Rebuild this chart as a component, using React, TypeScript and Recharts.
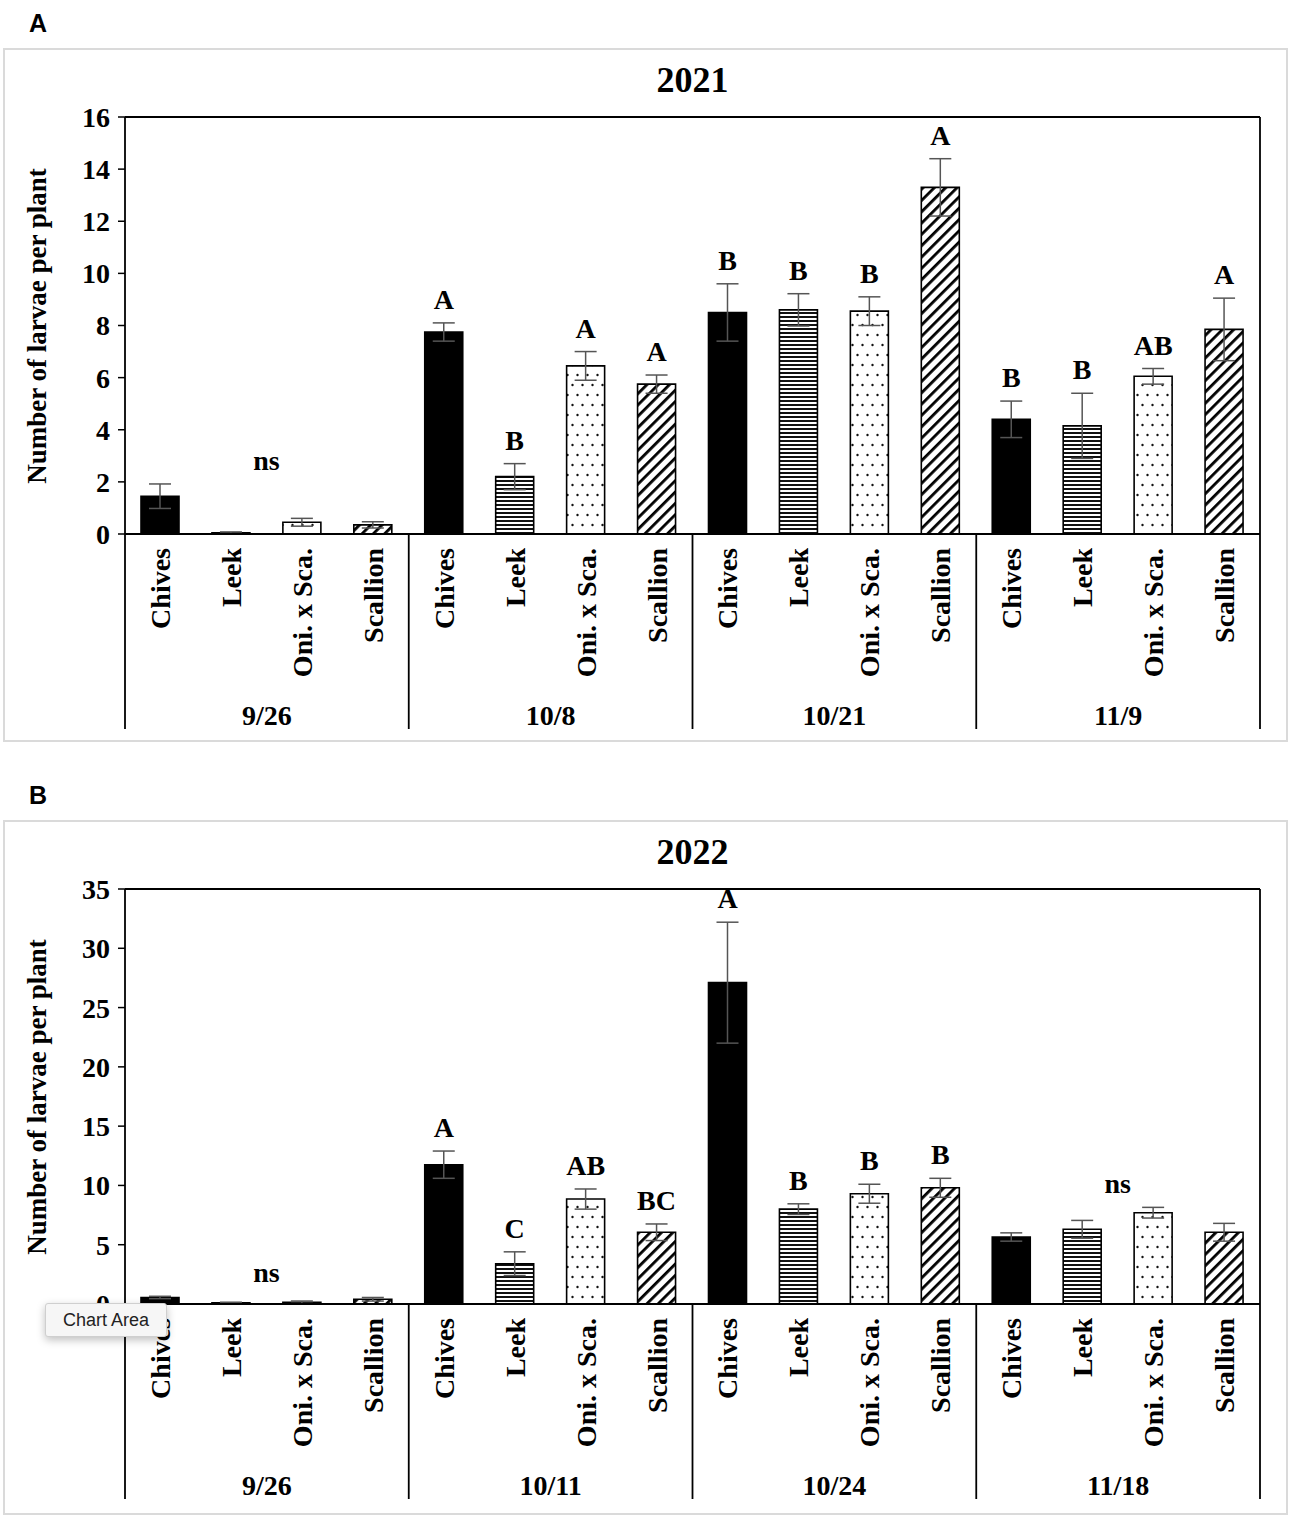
import { Bar, BarChart, Cell, ErrorBar, LabelList, ReferenceLine, XAxis, YAxis } from 'recharts'

const plants = ['Chives', 'Leek', 'Oni. x Sca.', 'Scallion']

const dates2021 = ['9/26', '10/8', '10/21', '11/9']
const mean2021 = [1.45, 0.05, 0.45, 0.35, 7.75, 2.2, 6.45, 5.75, 8.5, 8.6, 8.55, 13.3, 4.4, 4.15, 6.05, 7.85]
const se2021 = [0.47, 0.03, 0.15, 0.12, 0.35, 0.5, 0.55, 0.35, 1.1, 0.62, 0.55, 1.1, 0.7, 1.25, 0.3, 1.2]
// 'ns' sits on the tallest bar of its date group and is centred over the group
const letters2021 = ['ns', '', '', '', 'A', 'B', 'A', 'A', 'B', 'B', 'B', 'A', 'B', 'B', 'AB', 'A']
const ticks2021 = [0, 2, 4, 6, 8, 10, 12, 14, 16]

const dates2022 = ['9/26', '10/11', '10/24', '11/18']
const mean2022 = [0.55, 0.1, 0.15, 0.4, 11.75, 3.4, 8.85, 6.05, 27.1, 8.0, 9.3, 9.8, 5.65, 6.3, 7.7, 6.05]
const se2022 = [0.1, 0.05, 0.1, 0.15, 1.15, 1.0, 0.85, 0.7, 5.1, 0.45, 0.8, 0.8, 0.35, 0.75, 0.45, 0.75]
const letters2022 = ['ns', '', '', '', 'A', 'C', 'AB', 'BC', 'A', 'B', 'B', 'B', '', '', 'ns', '']
const ticks2022 = [0, 5, 10, 15, 20, 25, 30, 35]

const SERIF = "'Liberation Serif', 'Times New Roman', serif"
const SANS = "'Liberation Sans', Arial, sans-serif"
const W = 1295
const PLOT_L = 125
const PLOT_R = 1260
const BAND = (PLOT_R - PLOT_L) / 16
const Y_W = 60
const FS = 28

const buildRows = (dates: string[], mean: number[], se: number[], letters: string[]) =>
  mean.map((m, i) => ({
    key: `${dates[Math.floor(i / 4)]}-${plants[i % 4]}`,
    plant: plants[i % 4],
    date: dates[Math.floor(i / 4)],
    mean: m,
    se: se[i],
    top: m + se[i],
    letter: letters[i],
  }))

type PanelProps = {
  id: string
  letter: string
  year: string
  top: number
  boxTop: number
  boxH: number
  chartH: number
  bottomMargin: number
  rows: ReturnType<typeof buildRows>
  ticks: number[]
}

const Panel = ({ id, letter, year, top, boxTop, boxH, chartH, bottomMargin, rows, ticks }: PanelProps) => {
  const max = ticks[ticks.length - 1]
  const fills = ['#000', `url(#hl-${id})`, `url(#dot-${id})`, `url(#diag-${id})`]
  const plotTop = 117
  const plotBottom = chartH - bottomMargin - 200

  const renderTick = (props: any) => {
    const { x, y, index, payload } = props
    const row = rows[index]
    return (
      <g>
        <text
          x={x}
          y={y + 14}
          transform={`rotate(-90, ${x}, ${y + 14})`}
          textAnchor="end"
          dominantBaseline="central"
          fontFamily={SERIF}
          fontWeight="bold"
          fontSize={FS}
          fill="#000"
        >
          {row ? row.plant : payload.value}
        </text>
        {index % 4 === 0 && <line x1={x - BAND / 2} x2={x - BAND / 2} y1={y} y2={y + 195} stroke="#000" strokeWidth={1.8} />}
        {index === 15 && <line x1={x + BAND / 2} x2={x + BAND / 2} y1={y} y2={y + 195} stroke="#000" strokeWidth={1.8} />}
        {index % 4 === 1 && (
          <text
            x={x + BAND / 2}
            y={y + 181}
            textAnchor="middle"
            dominantBaseline="central"
            fontFamily={SERIF}
            fontWeight="bold"
            fontSize={FS}
            fill="#000"
          >
            {row.date}
          </text>
        )}
      </g>
    )
  }

  const renderLetter = (props: any) => {
    const { x, y, width, value, index } = props
    if (!value) return null
    let cx = x + width / 2
    if (value === 'ns') cx += (1.5 - ((index ?? 1) % 4)) * BAND
    return (
      <text x={cx} y={y - 14} textAnchor="middle" fontFamily={SERIF} fontWeight="bold" fontSize={FS} fill="#000">
        {value}
      </text>
    )
  }

  return (
    <>
      <div style={{ position: 'absolute', left: 29, top: boxTop - 39, fontFamily: SANS, fontWeight: 'bold', fontSize: 25 }}>
        {letter}
      </div>
      <div
        style={{
          position: 'absolute',
          left: 3,
          top: boxTop,
          width: 1285,
          height: boxH,
          border: '2px solid #dadada',
          boxSizing: 'border-box',
        }}
      />
      <div style={{ position: 'absolute', left: 0, top }}>
        <BarChart
          width={W}
          height={chartH}
          data={rows}
          margin={{ top: plotTop, right: W - PLOT_R - 1, bottom: bottomMargin, left: PLOT_L - Y_W }}
          barCategoryGap={0}
        >
          <defs>
            <pattern id={`hl-${id}`} width={8} height={4} patternUnits="userSpaceOnUse">
              <rect width={8} height={4} fill="#fff" />
              <rect width={8} height={2} fill="#111" />
            </pattern>
            <pattern id={`dot-${id}`} width={10} height={20} patternUnits="userSpaceOnUse">
              <rect width={10} height={20} fill="#fff" />
              <circle cx={2.5} cy={5} r={1.2} fill="#111" />
              <circle cx={7.5} cy={15} r={1.2} fill="#111" />
            </pattern>
            <pattern id={`diag-${id}`} width={8} height={8} patternUnits="userSpaceOnUse" patternTransform="rotate(45)">
              <rect width={8} height={8} fill="#fff" />
              <rect width={2.8} height={8} fill="#000" />
            </pattern>
          </defs>
          <XAxis
            dataKey="key"
            interval={0}
            height={200}
            tickSize={0}
            tickMargin={0}
            tickLine={false}
            axisLine={{ stroke: '#000', strokeWidth: 1.8 }}
            tick={renderTick}
          />
          <XAxis xAxisId="lab" dataKey="key" hide />
          <YAxis
            width={Y_W}
            domain={[0, max]}
            ticks={ticks}
            interval={0}
            allowDataOverflow
            tickSize={7}
            tickMargin={8}
            axisLine={{ stroke: '#000', strokeWidth: 1.8 }}
            tickLine={{ stroke: '#000', strokeWidth: 1.5 }}
            tick={{ fontFamily: SERIF, fontWeight: 'bold', fontSize: FS, fill: '#000' }}
          />
          <YAxis yAxisId="r" orientation="right" width={1} domain={[0, 1]} tick={false} tickLine={false} axisLine={{ stroke: '#000', strokeWidth: 1.8 }} />
          <ReferenceLine y={max} stroke="#000" strokeWidth={1.8} />
          <Bar dataKey="mean" barSize={38} stroke="#000" strokeWidth={1.6} isAnimationActive={false}>
            {rows.map((r, i) => (
              <Cell key={r.key} fill={fills[i % 4]} />
            ))}
            <ErrorBar dataKey="se" width={11} stroke="#555" strokeWidth={1.5} direction="y" />
          </Bar>
          <Bar xAxisId="lab" dataKey="top" barSize={38} fill="none" stroke="none" isAnimationActive={false}>
            <LabelList dataKey="letter" content={renderLetter} />
          </Bar>
        </BarChart>
      </div>
      <div
        style={{
          position: 'absolute',
          left: PLOT_L,
          width: PLOT_R - PLOT_L,
          top: top + 80,
          transform: 'translateY(-50%)',
          textAlign: 'center',
          fontFamily: SERIF,
          fontWeight: 'bold',
          fontSize: 36,
        }}
      >
        {year}
      </div>
      <div
        style={{
          position: 'absolute',
          left: 37,
          top: top + (plotTop + plotBottom) / 2,
          transform: 'translate(-50%, -50%) rotate(-90deg)',
          whiteSpace: 'nowrap',
          fontFamily: SERIF,
          fontWeight: 'bold',
          fontSize: 27,
        }}
      >
        Number of larvae per plant
      </div>
    </>
  )
}

const rows2021 = buildRows(dates2021, mean2021, se2021, letters2021)
const rows2022 = buildRows(dates2022, mean2022, se2022, letters2022)

export default function App() {
  return (
    <div style={{ position: 'absolute', left: 0, top: 0, width: W, height: 1520, background: '#fff', overflow: 'hidden' }}>
      <Panel id="a" letter="A" year="2021" top={0} boxTop={48} boxH={694} chartH={745} bottomMargin={11} rows={rows2021} ticks={ticks2021} />
      <Panel id="b" letter="B" year="2022" top={772} boxTop={820} boxH={695} chartH={748} bottomMargin={16} rows={rows2022} ticks={ticks2022} />
      <div
        style={{
          position: 'absolute',
          left: 45,
          top: 1303,
          width: 120,
          height: 32,
          background: '#f6f6f6',
          border: '1px solid #cfcfcf',
          borderRadius: 3,
          boxShadow: '0 3px 8px rgba(0,0,0,0.25)',
          fontFamily: SANS,
          fontSize: 18,
          color: '#222',
          lineHeight: '32px',
          textAlign: 'center',
        }}
      >
        Chart Area
      </div>
    </div>
  )
}
